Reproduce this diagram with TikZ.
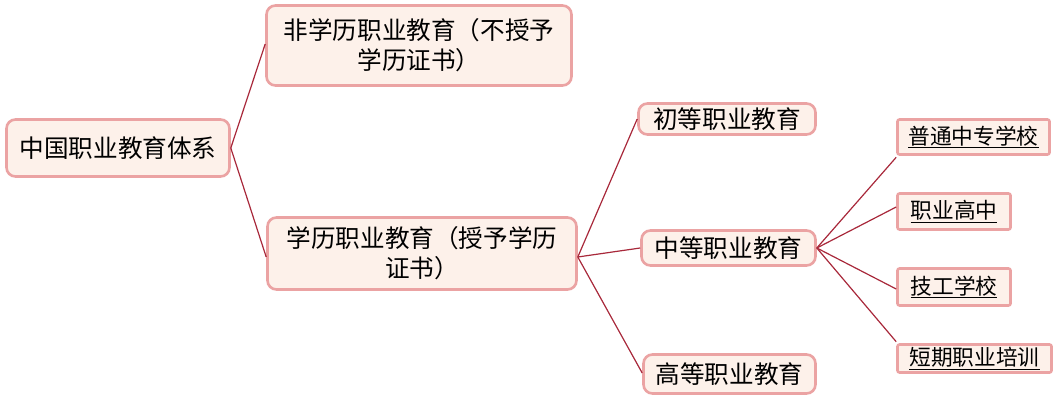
\documentclass[tikz,border=0pt]{standalone}
\usepackage{fontspec}
\newfontfamily\cjk{Noto Sans CJK SC}
\definecolor{boxfill}{HTML}{FDF1EA}
\definecolor{boxline}{HTML}{EBA3A3}
\definecolor{linkred}{HTML}{A8283A}
\tikzset{
  topic/.style={draw=boxline, fill=boxfill, line width=2.6pt, rounded corners=9pt,
    inner sep=0pt, align=center, font=\cjk\fontsize{24.6}{30}\selectfont, text=black},
  leaf/.style={topic, rounded corners=2pt, font=\cjk\fontsize{21.7}{26}\selectfont},
  link/.style={draw=linkred, line width=1.2pt}
}
\begin{document}
\begin{tikzpicture}[x=1pt,y=-1pt]
\useasboundingbox (0,0) rectangle (1063,401);
\node[topic, minimum width=223pt, minimum height=57pt] (root) at (118,148) {中国职业教育体系};
\node[topic, minimum width=305pt, minimum height=80pt] (A) at (419,45.5) {非学历职业教育（不授予\\学历证书）};
\node[topic, minimum width=309pt, minimum height=72pt] (B) at (422,253.5) {学历职业教育（授予学历\\证书）};
\node[topic, minimum width=177pt, minimum height=31pt] (C) at (727,119) {初等职业教育};
\node[topic, minimum width=174pt, minimum height=35pt] (D) at (728.5,248) {中等职业教育};
\node[topic, minimum width=172pt, minimum height=39pt] (E) at (729.5,374) {高等职业教育};
\node[leaf, minimum width=152pt, minimum height=35pt] (L1) at (973.5,137) {\underline{普通中专学校}};
\node[leaf, minimum width=113pt, minimum height=36pt] (L2) at (954,211.5) {\underline{职业高中}};
\node[leaf, minimum width=113pt, minimum height=37pt] (L3) at (954,287) {\underline{技工学校}};
\node[leaf, minimum width=154pt, minimum height=28pt] (L4) at (974.5,358.5) {\underline{短期职业培训}};
\path[link] (root.east) -- ([yshift=1.5pt]A.west);
\path[link] (root.east) -- ([yshift=-3.5pt]B.west);
\path[link] ([yshift=-3.5pt]B.east) -- (C.west);
\path[link] ([yshift=-3.5pt]B.east) -- (D.west);
\path[link] ([yshift=-3.5pt]B.east) -- ([yshift=1pt]E.west);
\path[link] (D.east) -- ([yshift=-1.5pt]L1.south west);
\path[link] (D.east) -- ([yshift=4.5pt]L2.west);
\path[link] (D.east) -- ([yshift=-2pt]L3.west);
\path[link] (D.east) -- ([yshift=1.5pt]L4.north west);
\end{tikzpicture}
\end{document}
